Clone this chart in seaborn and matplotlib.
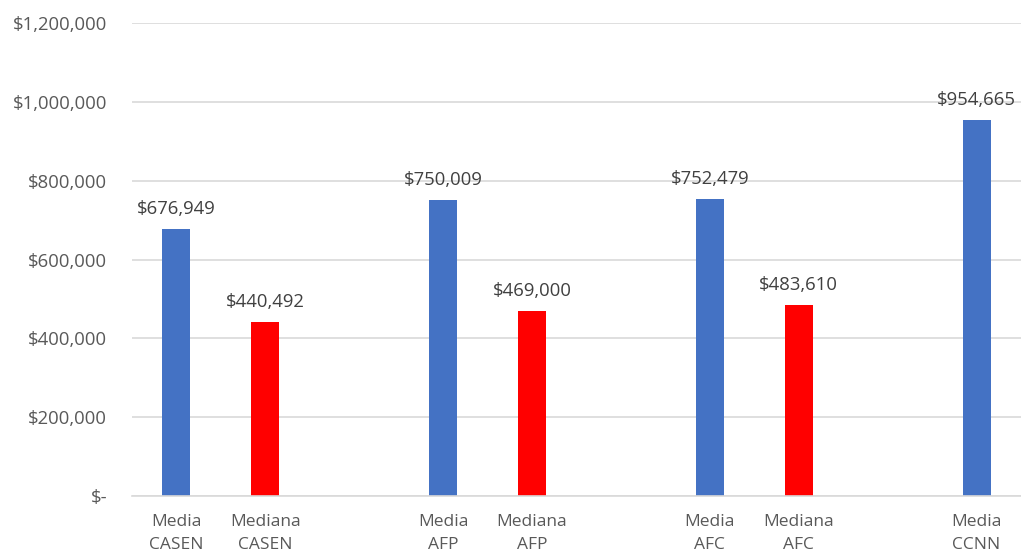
import numpy as np
import pandas as pd
import matplotlib
matplotlib.use("Agg")
import matplotlib.pyplot as plt
import seaborn as sns

# Income statistics by source (blank slots separate the groups)
categories = ["Media\nCASEN", "Mediana\nCASEN", " ",
              "Media\nAFP", "Mediana\nAFP", "  ",
              "Media\nAFC", "Mediana\nAFC", "   ",
              "Media\nCCNN"]
stat_type = ["Media", "Mediana", "gap",
             "Media", "Mediana", "gap",
             "Media", "Mediana", "gap",
             "Media"]
values = [676949, 440492, np.nan,
          750009, 469000, np.nan,
          752479, 483610, np.nan,
          954665]
y_ticks = [0, 200000, 400000, 600000, 800000, 1000000, 1200000]

df = pd.DataFrame({"categoria": categories, "tipo": stat_type, "valor": values})

sns.set_theme(style="white")
plt.rcParams["font.family"] = ["Open Sans", "DejaVu Sans"]

fig = plt.figure(figsize=(10.21, 5.56), dpi=100)
ax = fig.add_axes([0.1293, 0.1079, 0.8707, 0.8507])

palette = {"Media": "#4472C4", "Mediana": "#FF0000", "gap": "#FFFFFF"}
sns.barplot(data=df, x="categoria", y="valor", hue="tipo", order=categories,
            palette=palette, dodge=False, width=0.315, legend=False,
            saturation=1, linewidth=0, ax=ax)

ax.set_xlim(-0.5, len(categories) - 0.5)
ax.set_ylim(0, 1200000)
ax.set_yticks(y_ticks)
ax.set_yticklabels(["$-"] + [f"${v:,.0f}" for v in y_ticks[1:]], fontsize=13.3)
ax.yaxis.grid(True, color="#D9D9D9", linewidth=1.2)
ax.set_axisbelow(True)
for side in ["top", "right", "left"]:
    ax.spines[side].set_visible(False)
ax.spines["bottom"].set_color("#D9D9D9")
ax.spines["bottom"].set_linewidth(1.2)
ax.tick_params(axis="both", length=0, colors="#595959")
ax.tick_params(axis="y", pad=18)
ax.tick_params(axis="x", pad=13)
for lbl in ax.get_xticklabels():
    lbl.set_fontsize(12.5)
    lbl.set_linespacing(1.6)
ax.set_xlabel("")
ax.set_ylabel("")

for i, v in enumerate(values):
    if not np.isnan(v):
        ax.annotate(f"${v:,.0f}", (i, v), xytext=(0, 8), textcoords="offset points",
                    ha="center", va="bottom", fontsize=13.3, color="#404040")

fig.savefig("out.png", dpi=100)
